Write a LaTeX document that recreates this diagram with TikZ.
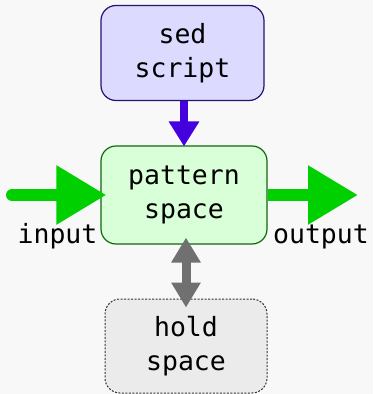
\documentclass[tikz,border=0pt]{standalone}
\usepackage{fontspec}
\setmonofont{DejaVu Sans Mono}
\usetikzlibrary{arrows.meta}
\definecolor{bg}{HTML}{F8F8F8}
\definecolor{sedfill}{HTML}{DCDAFF}
\definecolor{sedline}{HTML}{24146E}
\definecolor{sedarrow}{HTML}{4400DD}
\definecolor{psfill}{HTML}{D9FFD9}
\definecolor{psline}{HTML}{0E680E}
\definecolor{flow}{HTML}{00D000}
\definecolor{holdfill}{HTML}{EBEBEB}
\definecolor{holdline}{HTML}{333333}
\definecolor{swap}{HTML}{707070}
\tikzset{
  x=1pt, y=1pt,
  txt/.style={font=\ttfamily\fontsize{26.5}{34}\selectfont, align=center, text=black},
  box/.style={txt, rounded corners=15pt, line width=1.2pt, inner sep=0pt},
  flowarrow/.style={draw=flow, line width=12pt, -{Triangle[length=50pt,width=56pt]}},
  sedarr/.style={draw=sedarrow, line width=8pt, -{Triangle[length=25pt,width=29pt]}},
  swaparr/.style={draw=swap, line width=9pt, {Triangle[length=25pt,width=28pt]}-{Triangle[length=25pt,width=28pt]}},
}
\begin{document}
\begin{tikzpicture}
\fill[bg] (0,0) rectangle (373,-394);
\useasboundingbox (0,0) rectangle (373,-394);

\node[box, fill=sedfill, draw=sedline, minimum width=163pt, minimum height=95pt]
  (sed) at (182.5,-53) {sed\\script};
\node[box, fill=psfill, draw=psline, minimum width=166pt, minimum height=98pt]
  (ps) at (184,-195) {pattern\\space};
\node[box, fill=holdfill, draw=holdline, line width=1pt, dash pattern=on 2pt off 1.5pt,
  minimum width=162pt, minimum height=94pt]
  (hold) at (186,-346) {hold\\space};

\node[txt, anchor=base] (inlabel) at (57.5,-243) {input};
\node[txt, anchor=base] (outlabel) at (321,-243) {output};

\coordinate (instart) at (12,-195);
\coordinate (outtip) at (358,-195);

\draw[flowarrow, line cap=round] (instart) -- ([xshift=6pt]ps.west);
\draw[flowarrow] (ps.east) -- (outtip);
\draw[sedarr] (sed.south -| ps.north) -- ([yshift=-1pt]ps.north);
\draw[swaparr] ([xshift=2pt,yshift=7pt]ps.south) -- ([yshift=-9pt]hold.north);
\end{tikzpicture}
\end{document}
